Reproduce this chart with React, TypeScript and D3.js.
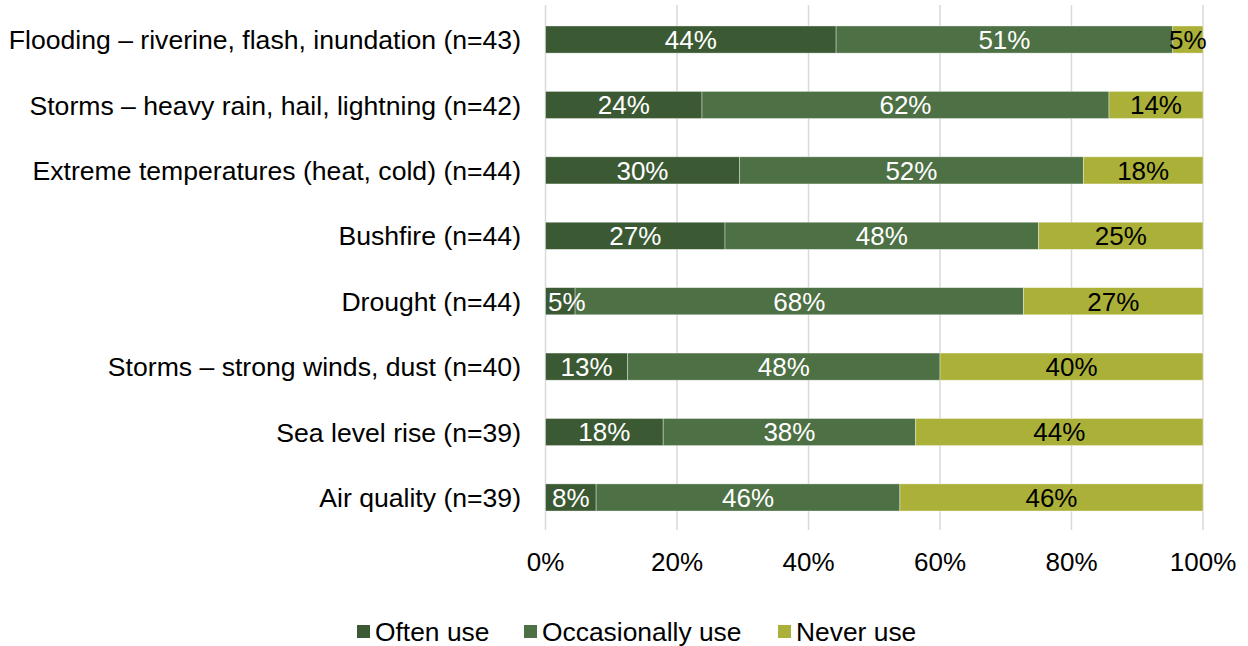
import React from "react";
import * as d3 from "d3";

const categories = [
  "Flooding – riverine, flash, inundation (n=43)",
  "Storms – heavy rain, hail, lightning (n=42)",
  "Extreme temperatures (heat, cold) (n=44)",
  "Bushfire (n=44)",
  "Drought (n=44)",
  "Storms – strong winds, dust (n=40)",
  "Sea level rise (n=39)",
  "Air quality (n=39)",
];
const oftenUse = [44.2, 23.8, 29.5, 27.3, 4.5, 12.5, 17.9, 7.7];
const occasionallyUse = [51.2, 61.9, 52.3, 47.7, 68.2, 47.5, 38.4, 46.2];
const neverUse = [4.6, 14.3, 18.2, 25.0, 27.3, 40.0, 43.7, 46.1];
const seriesNames = ["Often use", "Occasionally use", "Never use"];
const seriesColors = ["#3B5A33", "#4D7044", "#ABB138"];
const labelColors = ["#ffffff", "#ffffff", "#000000"];
const xTicks = [0, 20, 40, 60, 80, 100];

export default function App() {
  const W = 1248, H = 646;
  const x0 = 545.5, x1 = 1203;
  const y0 = 7, y1 = 530;
  const x = d3.scaleLinear().domain([0, 100]).range([x0, x1]);
  const y = d3.scaleBand().domain(categories).range([y0, y1]).paddingInner(0.585).paddingOuter(0.29);
  const series = [oftenUse, occasionallyUse, neverUse];
  const font = "'Liberation Sans', Arial, sans-serif";
  const fs = 26;

  const legendItems = [{ x: 357 }, { x: 524 }, { x: 778 }];

  const segments = categories.flatMap((c, i) => {
    let acc = 0;
    const by = y(c)!;
    const bh = y.bandwidth();
    return series.map((s, k) => {
      const v = s[i];
      const start = acc;
      acc += v;
      const xs = x(start), xe = x(start + v);
      const label = `${Math.round(v)}%`;
      const halfW = (label.length === 2 ? 1.445 : 2.0) * fs / 2;
      const cx = Math.max((xs + xe) / 2, x0 + 2.5 + halfW);
      return { key: `${i}-${k}`, k, xs, xe, by, bh, label, cx };
    });
  });

  return (
    <svg width={W} height={H} style={{ position: "absolute", left: 0, top: 0, background: "#fff" }} fontFamily={font}>
      {xTicks.map((t) => (
        <line key={t} x1={x(t)} x2={x(t)} y1={5} y2={530} stroke="#D9D9D9" strokeWidth={1.5} />
      ))}
      {segments.map((d) => (
        <rect key={d.key} x={d.xs} y={d.by} width={d.xe - d.xs} height={d.bh} fill={seriesColors[d.k]} stroke="#ffffff" strokeOpacity={0.5} strokeWidth={0.75} />
      ))}
      {segments.map((d) => (
        <text key={d.key} x={d.cx} y={d.by + d.bh / 2} dy="0.36em" textAnchor="middle" fontSize={fs} fill={labelColors[d.k]}>
          {d.label}
        </text>
      ))}
      {categories.map((c) => (
        <text key={c} x={521} y={y(c)! + y.bandwidth() / 2} dy="0.36em" textAnchor="end" fontSize={26.6} fill="#000">
          {c}
        </text>
      ))}
      {xTicks.map((t) => (
        <text key={t} x={x(t)} y={562} dy="0.36em" textAnchor="middle" fontSize={fs} fill="#000">
          {t}%
        </text>
      ))}
      {seriesNames.map((n, k) => (
        <g key={n}>
          <rect x={legendItems[k].x} y={625} width={13} height={13} fill={seriesColors[k]} />
          <text x={legendItems[k].x + 18} y={631} dy="0.36em" fontSize={26.4} fill="#000">
            {n}
          </text>
        </g>
      ))}
    </svg>
  );
}
